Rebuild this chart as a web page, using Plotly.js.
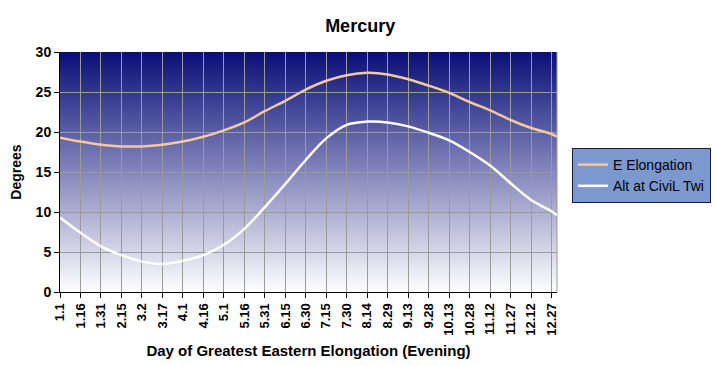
<!DOCTYPE html>
<html>
<head>
<meta charset="utf-8">
<script src="https://cdn.plot.ly/plotly-3.0.1.min.js"></script>
<style>
  html, body { margin: 0; padding: 0; background: #ffffff; }
  #chart { width: 716px; height: 366px; }
</style>
</head>
<body>
<div id="chart"></div>
<script>
// Day-of-year index (0 = Jan 1) at each 15-day grid line, plus Dec 31
const dayIndex = [0, 15, 30, 45, 60, 75, 90, 105, 120, 135, 150, 165, 180, 195, 210, 225, 240, 255, 270, 285, 300, 315, 330, 345, 360, 364];
const eElongation = [19.3, 18.8, 18.4, 18.2, 18.2, 18.4, 18.8, 19.4, 20.2, 21.2, 22.6, 23.9, 25.3, 26.4, 27.1, 27.4, 27.2, 26.6, 25.8, 24.9, 23.75, 22.7, 21.5, 20.5, 19.75, 19.4];
const altCivilTwi = [9.3, 7.4, 5.7, 4.6, 3.8, 3.5, 3.9, 4.6, 5.9, 7.9, 10.6, 13.5, 16.5, 19.2, 20.9, 21.3, 21.2, 20.7, 19.9, 18.95, 17.5, 15.8, 13.6, 11.5, 10.1, 9.6];
const tickPositions = [0, 15, 30, 45, 60, 75, 90, 105, 120, 135, 150, 165, 180, 195, 210, 225, 240, 255, 270, 285, 300, 315, 330, 345, 360];
const tickLabels = ["1.1", "1.16", "1.31", "2.15", "3.2", "3.17", "4.1", "4.16", "5.1", "5.16", "5.31", "6.15", "6.30", "7.15", "7.30", "8.14", "8.29", "9.13", "9.28", "10.13", "10.28", "11.12", "11.27", "12.12", "12.27"];
const seriesNames = ["E Elongation", "Alt at CiviL Twi"];

// vertical gradient for the plot area background
function gradientURL() {
  const c = document.createElement('canvas');
  c.width = 4; c.height = 480;
  const g = c.getContext('2d');
  const grd = g.createLinearGradient(0, 0, 0, 480);
  grd.addColorStop(0, '#0a0f78');
  grd.addColorStop(1, '#ffffff');
  g.fillStyle = grd;
  g.fillRect(0, 0, 4, 480);
  return c.toDataURL('image/png');
}

const font = 'Liberation Sans, Arial, sans-serif';

const traces = [
  {
    x: dayIndex, y: eElongation, name: seriesNames[0], type: 'scatter', mode: 'lines',
    line: { color: '#f3c9a0', width: 2.5, shape: 'spline', smoothing: 1 }
  },
  {
    x: dayIndex, y: altCivilTwi, name: seriesNames[1], type: 'scatter', mode: 'lines',
    line: { color: '#ffffff', width: 2.5, shape: 'spline', smoothing: 1 }
  }
];

const layout = {
  width: 716, height: 366,
  margin: { l: 60, r: 159, t: 52, b: 74, pad: 0, autoexpand: false },
  paper_bgcolor: '#ffffff',
  plot_bgcolor: '#ffffff',
  font: { family: font, color: '#000000' },
  title: {
    text: 'Mercury', x: 0.503, xref: 'container', xanchor: 'center', y: 0.93, yref: 'container', yanchor: 'middle',
    font: { family: font, size: 18, weight: 'bold', color: '#000000' }
  },
  showlegend: true,
  legend: {
    x: 1.03, xanchor: 'left', y: 0.6, yanchor: 'top',
    bgcolor: '#7b99cf', bordercolor: '#1b1b3b', borderwidth: 1,
    font: { family: font, size: 14, color: '#000000' },
    itemwidth: 30, tracegroupgap: 0
  },
  xaxis: {
    range: [0, 364], tickmode: 'array', tickvals: tickPositions, ticktext: tickLabels,
    tickangle: -90, ticks: 'outside', ticklen: 5, tickcolor: '#000000', tickwidth: 1,
    showline: true, linecolor: '#000000', linewidth: 1,
    showgrid: true, gridcolor: '#9a9a9a', gridwidth: 1, zeroline: false,
    tickfont: { family: font, size: 13, weight: 'bold', color: '#000000' },
    title: { text: 'Day of Greatest Eastern Elongation (Evening)', standoff: 10,
      font: { family: font, size: 15, weight: 'bold', color: '#000000' } }
  },
  yaxis: {
    range: [0, 30], tickvals: [0, 5, 10, 15, 20, 25, 30],
    ticks: 'outside', ticklen: 5, tickcolor: '#000000', tickwidth: 1,
    showline: true, linecolor: '#000000', linewidth: 1,
    showgrid: true, gridcolor: '#9a9a9a', gridwidth: 1, zeroline: false,
    tickfont: { family: font, size: 14, weight: 'bold', color: '#000000' },
    title: { text: 'Degrees', standoff: 10,
      font: { family: font, size: 14, weight: 'bold', color: '#000000' } }
  },
  shapes: [{
    type: 'line', xref: 'paper', yref: 'paper', x0: 1, x1: 1, y0: 0, y1: 1,
    line: { color: '#9a9a9a', width: 1 }, layer: 'below'
  }],
  images: [{
    source: gradientURL(), xref: 'paper', yref: 'paper', x: 0, y: 1,
    sizex: 1, sizey: 1, sizing: 'stretch', xanchor: 'left', yanchor: 'top', layer: 'below'
  }]
};

Plotly.newPlot('chart', traces, layout, { displayModeBar: false, staticPlot: true });
</script>
</body>
</html>
